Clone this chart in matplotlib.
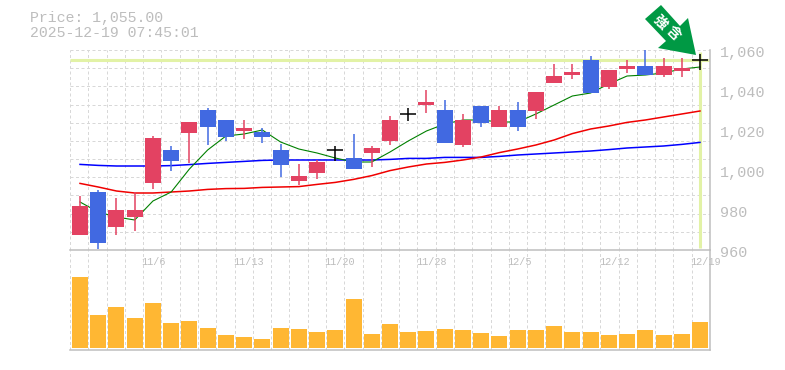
import matplotlib
matplotlib.use("Agg")
import matplotlib.pyplot as plt
from matplotlib.patches import Polygon
import numpy as np

opens = [967.5,989,971.5,976.5,993.5,1010,1018.5,1030,1025,1019.5,1019,1010,994.5,998.5,1010,1006,1008.5,1014.5,1028,1032.5,1030,1012.5,1032,1021.5,1030,1029.5,1043.5,1047.5,1055,1041.5,1050.5,1052,1047.5,1049.5,1055]
closes = [982,963.5,980,980,1016,1004.5,1024,1021.5,1016.5,1021,1016.5,1002.5,997,1004,1010,1000.5,1011,1025,1028,1034,1013.5,1025,1023.5,1030,1021.5,1039,1047,1049,1038.5,1050,1052,1047.5,1052,1051,1055]
highs = [987,990,986,989,1017,1012,1024,1031,1025,1025,1021,1013,1003,1005,1012,1018,1012,1027,1031,1040,1035,1028,1032,1032,1034,1039,1053,1053,1057,1050,1055,1060,1056,1056,1058]
lows = [967.5,960.5,967.5,969.5,990.5,999.5,1003.5,1012.5,1014.5,1015.5,1013.5,996.5,992.5,995.5,1004.5,1000.5,1001.5,1012.5,1024.5,1028.5,1013.5,1011.5,1021.5,1021.5,1019.5,1025.5,1043.5,1045.5,1038.5,1040.5,1048.5,1047.5,1046.5,1046.5,1050]
ma_short = [984,979,976.5,975,984.5,989,1000.5,1010,1017,1018,1020,1014,1010.5,1008.5,1006,1004,1004,1009,1014.5,1019.5,1023,1025,1025,1024,1024,1028,1032.5,1037,1038.5,1043,1047,1047.5,1048.5,1050.5,1051.5]
ma_mid = [993.3,991.5,989.5,988.5,988.5,989,989.5,990.3,990.7,990.8,991.3,991.5,991.7,992.8,993.8,995.3,997.2,999.7,1001.5,1003,1003.8,1005,1006.5,1008.7,1010.5,1012.5,1015,1018.2,1020.5,1022,1023.8,1025,1026.5,1028,1029.5]
ma_long = [1002.8,1002.3,1002,1002,1002,1002.2,1002.7,1003.3,1003.8,1004.3,1004.8,1005,1005,1005,1005,1005,1005,1005.3,1005.8,1005.8,1006.3,1006.3,1006.3,1006.8,1007.5,1008,1008.5,1009,1009.5,1010.2,1011,1011.5,1012,1012.8,1013.8]
volumes = [71,33,41,30,45,25,27,20,13,11,9,20,19,16,18,49,14,24,16,17,19,18,15,12,18,18,22,16,16,13,14,18,13,14,26]
date_labels = {4:"11/6",9:"11/13",14:"11/20",19:"11/28",24:"12/5",29:"12/12",34:"12/19"}
price_ticks = [960,980,1000,1020,1040,1060]
last_price = 1055
header = ["Price: 1,055.00","2025-12-19 07:45:01"]
arrow_text = "強含"

W,H = 785,370
RED,BLUE,ORANGE,LIME,GRID,AXC,TXT = "#E34262","#4169E1","#FFB733","#E2F2A6","#D8D8D8","#BEBEBE","#BDBDBD"
MONO = ["Liberation Mono","DejaVu Sans Mono"]
n = len(closes)
x = np.arange(n)*0.9972+0.547

fig = plt.figure(figsize=(W/100,H/100),dpi=100,facecolor="white")
def mk(l,t,r,b):
    return fig.add_axes([l/W,1-b/H,(r-l)/W,(b-t)/H])
ax = mk(70,50,710,250)
av = mk(70,250,710,350)
ax.set_zorder(3)
ax.patch.set_alpha(0)
for a in (ax,av):
    a.set_xlim(0,n)
    a.set_xticks(np.arange(n+1))
    a.tick_params(length=0,labelbottom=False,labelleft=False)
    a.grid(True,axis="x",color=GRID,ls=(0,(3,2.5)),lw=0.72)
    a.set_axisbelow(True)
    for s in a.spines.values():
        s.set_visible(False)
    for k in ("right","bottom"):
        a.spines[k].set_visible(True)
        a.spines[k].set_color(AXC)
        a.spines[k].set_linewidth(1.1)
ax.set_ylim(960,1060)
ax.set_yticks(np.linspace(960,1060,12))
ax.grid(True,axis="y",color=GRID,ls=(0,(3,2.5)),lw=0.72)
av.set_ylim(-2,98)
av.set_yticks([])

ax.plot([0,n],[last_price,last_price],color=LIME,lw=2.2,zorder=1.5,solid_capstyle="butt")
ax.plot([x[-1],x[-1]],[961,1059],color=LIME,lw=2.2,zorder=1.5,solid_capstyle="butt")

ax.plot(x,ma_long,color="#0000FF",lw=1.1,zorder=2)
ax.plot(x,ma_mid,color="#F00000",lw=1.1,zorder=2)
ax.plot(x,ma_short,color="#008000",lw=0.8,zorder=2)

for i in range(n):
    o,c = opens[i],closes[i]
    col = RED if c>o else BLUE if c<o else "black"
    ax.vlines(x[i],lows[i],highs[i],color=col,lw=1.1,zorder=3,clip_on=False)
    if c==o:
        ax.hlines(c,x[i]-0.44,x[i]+0.44,color="black",lw=1.1,zorder=3,clip_on=False)
    else:
        ax.bar(x[i],abs(c-o),bottom=min(o,c),width=0.875,color=col,lw=0,zorder=3)

av.bar(x,volumes,width=0.875,color=ORANGE,lw=0,zorder=3)

for i,t in date_labels.items():
    ax.annotate(t,xy=(i,960),xytext=(-1.1,-8.6),textcoords="offset points",ha="left",va="center",
                color=TXT,family=MONO,fontsize=7.3,annotation_clip=False,zorder=8)
for p in price_ticks:
    ax.annotate(f"{p:,}",xy=(35,p),xytext=(7.5,-2.2),textcoords="offset points",ha="left",va="center",
                color=TXT,family=MONO,fontsize=10.9,annotation_clip=False)
for t,yy in zip(header,(18,33)):
    fig.text(30/W,1-yy/H,t,color=TXT,family=MONO,fontsize=10.7,ha="left",va="center")

pts = [(661,5),(645,19),(666,41),(658,48),(696,55),(688,18),(680,26)]
fig.add_artist(Polygon([(a/W,1-b/H) for a,b in pts],closed=True,transform=fig.transFigure,
                       facecolor="#009944",edgecolor="none",zorder=6))
for ch,(px,py) in zip(arrow_text,((660,22),(673,33))):
    fig.text(px/W,1-py/H,ch,color="white",family=["Noto Sans CJK JP","DejaVu Sans"],fontsize=10,
             fontweight="bold",rotation=-45,ha="center",va="center",rotation_mode="anchor",zorder=7)
fig.savefig("out.png",dpi=100,facecolor="white")
